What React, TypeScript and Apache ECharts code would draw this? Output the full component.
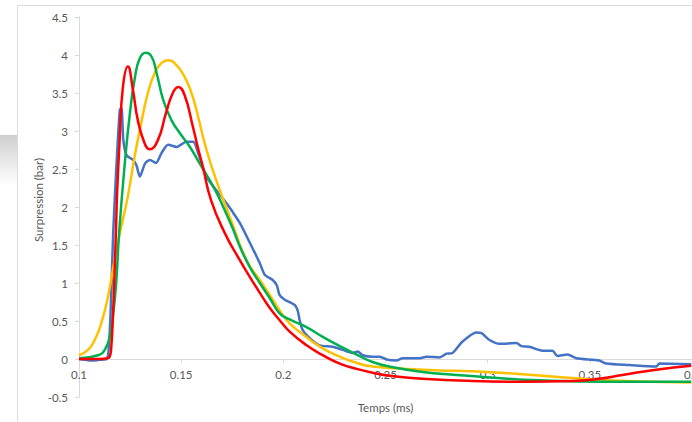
import React, { useEffect, useRef } from "react";
import * as echarts from "echarts";

// Pression mesurée (bar) en fonction du temps (ms)
const mesure: [number, number][] = [
  [0.1, 0.0], [0.1029, -0.01], [0.1064, -0.02], [0.1103, -0.01], [0.1137, 0.0],
  [0.1152, 0.45], [0.1168, 1.7], [0.1184, 2.58], [0.12, 3.28], [0.1208, 3.3],
  [0.1217, 2.88], [0.1233, 2.68], [0.1265, 2.62], [0.1281, 2.55], [0.1298, 2.4],
  [0.1323, 2.57], [0.1347, 2.62], [0.1376, 2.58], [0.1404, 2.71], [0.1436, 2.82],
  [0.1478, 2.79], [0.1526, 2.86], [0.1559, 2.86], [0.1583, 2.71], [0.1624, 2.4],
  [0.1689, 2.16], [0.1722, 2.05], [0.1748, 1.95], [0.1787, 1.79], [0.1836, 1.53],
  [0.1885, 1.26], [0.1909, 1.11], [0.1948, 1.04], [0.1968, 0.97], [0.1982, 0.84],
  [0.2007, 0.78], [0.2056, 0.71], [0.207, 0.64], [0.208, 0.51], [0.2095, 0.38],
  [0.2139, 0.25], [0.2178, 0.18], [0.2241, 0.16], [0.229, 0.12], [0.2339, 0.08],
  [0.2364, 0.1], [0.2388, 0.05], [0.2437, 0.03], [0.2471, 0.03], [0.251, -0.01],
  [0.2554, -0.02], [0.2584, 0.01], [0.2667, 0.01], [0.2701, 0.03], [0.2764, 0.02],
  [0.2799, 0.07], [0.2828, 0.08], [0.2877, 0.23], [0.2945, 0.35], [0.297, 0.34],
  [0.3009, 0.25], [0.3058, 0.2], [0.3141, 0.21], [0.3165, 0.17], [0.3204, 0.16],
  [0.3268, 0.11], [0.3317, 0.11], [0.3341, 0.04], [0.339, 0.06], [0.3434, 0.01],
  [0.3546, -0.02], [0.3581, -0.06], [0.3693, -0.08], [0.3825, -0.1], [0.384, -0.06],
  [0.3996, -0.07],
];

// Modèle A (rouge)
const modeleA: [number, number][] = [
  [0.1, 0.0], [0.1103, 0.0], [0.1137, 0.01], [0.115, 0.03], [0.1158, 0.16],
  [0.1166, 0.56], [0.1174, 1.13], [0.1182, 1.79], [0.1187, 2.22], [0.1199, 2.88],
  [0.1215, 3.58], [0.1239, 3.85], [0.1264, 3.54], [0.1288, 3.14], [0.1321, 2.84],
  [0.1346, 2.76], [0.1386, 2.88], [0.1425, 3.23], [0.1459, 3.5], [0.1486, 3.58],
  [0.1517, 3.47], [0.1557, 3.06], [0.1582, 2.78], [0.1606, 2.53], [0.1646, 2.09],
  [0.1713, 1.66], [0.1787, 1.3], [0.1836, 1.08], [0.1885, 0.87], [0.1934, 0.67],
  [0.1982, 0.51], [0.2031, 0.36], [0.2114, 0.18], [0.2193, 0.05], [0.2276, -0.06],
  [0.2359, -0.13], [0.2437, -0.18], [0.252, -0.22], [0.2681, -0.26], [0.2926, -0.29],
  [0.317, -0.3], [0.3414, -0.29], [0.3546, -0.26], [0.3659, -0.21], [0.3825, -0.14],
  [0.3996, -0.09],
];

// Modèle B (vert)
const modeleB: [number, number][] = [
  [0.1, 0.01], [0.1093, 0.05], [0.1126, 0.12], [0.115, 0.29], [0.1166, 0.56],
  [0.1182, 1.0], [0.1196, 1.65], [0.1224, 2.57], [0.1249, 3.23], [0.1274, 3.71],
  [0.1298, 3.96], [0.1326, 4.03], [0.1355, 3.98], [0.138, 3.76], [0.1412, 3.41],
  [0.1453, 3.14], [0.1494, 2.97], [0.1543, 2.79], [0.1591, 2.57], [0.1657, 2.27],
  [0.1706, 2.0], [0.1755, 1.7], [0.1787, 1.48], [0.1836, 1.21], [0.1885, 1.0],
  [0.1934, 0.8], [0.1982, 0.6], [0.2031, 0.52], [0.2113, 0.42], [0.2193, 0.29],
  [0.2276, 0.17], [0.2357, 0.06], [0.2437, -0.04], [0.252, -0.1], [0.2681, -0.17],
  [0.2848, -0.21], [0.2994, -0.24], [0.3253, -0.28], [0.3579, -0.3], [0.3996, -0.3],
];

// Modèle C (jaune)
const modeleC: [number, number][] = [
  [0.1, 0.05], [0.1044, 0.12], [0.1077, 0.25], [0.1109, 0.47], [0.1142, 0.82],
  [0.1174, 1.3], [0.1207, 1.74], [0.1239, 2.14], [0.1272, 2.66], [0.1304, 3.1],
  [0.1337, 3.5], [0.137, 3.76], [0.1402, 3.89], [0.1435, 3.93], [0.1476, 3.87],
  [0.1517, 3.71], [0.1557, 3.45], [0.1624, 2.75], [0.1689, 2.22], [0.1738, 1.87],
  [0.182, 1.3], [0.1885, 1.04], [0.1934, 0.84], [0.1982, 0.64], [0.2031, 0.47],
  [0.2113, 0.29], [0.2193, 0.14], [0.2276, 0.03], [0.2357, -0.05], [0.2437, -0.1],
  [0.2602, -0.13], [0.2764, -0.15], [0.2926, -0.16], [0.317, -0.2], [0.3414, -0.25],
  [0.3579, -0.28], [0.3996, -0.31],
];

const FONT = "Lato, 'Noto Sans', sans-serif";
const AXIS_GREY = "#d9d9d9";
const TEXT_GREY = "#595959";

export default function App() {
  const ref = useRef<HTMLDivElement>(null);

  useEffect(() => {
    if (!ref.current) return;
    const chart = echarts.init(ref.current, null, { renderer: "svg" });

    const line = (data: [number, number][], color: string, z: number, smooth: number) => ({
      type: "line",
      data,
      showSymbol: false,
      smooth,
      z,
      lineStyle: { color, width: 2.5 },
      emphasis: { disabled: true },
    });

    chart.setOption({
      animation: false,
      backgroundColor: "#ffffff",
      textStyle: { fontFamily: FONT },
      grid: {
        left: 79,
        right: 28,
        top: 17,
        bottom: 25,
        containLabel: false,
        outerBoundsMode: "none",
      },
      xAxis: {
        type: "value",
        min: 0.1,
        max: 0.4,
        interval: 0.05,
        // the horizontal axis sits on the zero line, 0.5 bar above the plot bottom
        offset: -38,
        name: "Temps (ms)",
        nameLocation: "middle",
        nameGap: 42,
        nameTextStyle: { color: TEXT_GREY, fontSize: 11.5, fontFamily: FONT },
        axisLine: { show: true, onZero: false, lineStyle: { color: AXIS_GREY, width: 1 } },
        axisTick: { show: true, length: 4, lineStyle: { color: AXIS_GREY } },
        axisLabel: { color: TEXT_GREY, fontSize: 11.5, margin: 9, fontFamily: FONT },
        splitLine: { show: false },
      },
      yAxis: {
        type: "value",
        min: -0.5,
        max: 4.5,
        interval: 0.5,
        axisLine: { show: true, lineStyle: { color: AXIS_GREY, width: 1 } },
        axisTick: { show: true, length: 4, lineStyle: { color: AXIS_GREY } },
        axisLabel: { color: TEXT_GREY, fontSize: 11.5, margin: 11, fontFamily: FONT },
        splitLine: { show: false },
      },
      graphic: [
        {
          type: "rect",
          silent: true,
          z: -10,
          shape: { x: 0, y: 135, width: 17, height: 50 },
          style: {
            fill: new echarts.graphic.LinearGradient(0, 0, 0, 1, [
              { offset: 0, color: "#cfcfcf" },
              { offset: 1, color: "#ffffff" },
            ]),
          },
        },
        {
          type: "rect",
          silent: true,
          z: -5,
          shape: { x: 17.5, y: 5.5, width: 800, height: 800 },
          style: { fill: "none", stroke: "#dcdcdc", lineWidth: 1 },
        },
        {
          type: "text",
          silent: true,
          x: 38,
          y: 200,
          rotation: Math.PI / 2,
          style: {
            text: "Surpression (bar)",
            fill: TEXT_GREY,
            font: `11.5px ${FONT}`,
            align: "center",
            verticalAlign: "middle",
          },
        },
      ],
      series: [
        line(mesure, "#4472c4", 2, 0.25),
        line(modeleC, "#ffc000", 3, 0.5),
        line(modeleB, "#00b050", 4, 0.5),
        line(modeleA, "#ff0000", 5, 0.5),
      ],
    });

    return () => chart.dispose();
  }, []);

  return (
    <div
      style={{
        position: "fixed",
        left: 0,
        top: 0,
        width: 692,
        height: 422,
        overflow: "hidden",
        background: "#ffffff",
      }}
    >
      <div ref={ref} style={{ width: 720, height: 422 }} />
    </div>
  );
}
